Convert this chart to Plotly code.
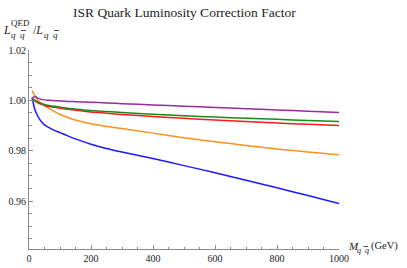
import plotly.graph_objects as go

# Data
mass = [10, 15, 20, 30, 40, 50, 60, 75, 100, 125, 150, 200, 250, 300, 400, 500, 600, 700, 800, 900, 1000]
blue = [1.0012, 0.9982, 0.9960, 0.9934, 0.9915, 0.9903, 0.9895, 0.9885, 0.9872, 0.9859, 0.9847, 0.9826, 0.9809, 0.9795, 0.9769, 0.9741, 0.9713, 0.9683, 0.9653, 0.9622, 0.9591]
orange = [1.0039, 1.0027, 1.0016, 0.9999, 0.9988, 0.9979, 0.9971, 0.9960, 0.9944, 0.9932, 0.9922, 0.9907, 0.9897, 0.9888, 0.9870, 0.9852, 0.9836, 0.9821, 0.9807, 0.9795, 0.9784]
red = [1.0008, 1.0002, 0.9997, 0.9989, 0.9984, 0.9980, 0.9977, 0.9974, 0.9969, 0.9965, 0.9961, 0.9954, 0.9949, 0.9944, 0.9936, 0.9929, 0.9922, 0.9916, 0.9910, 0.9905, 0.9900]
green = [1.0007, 1.0003, 1.0000, 0.9993, 0.9988, 0.9984, 0.9981, 0.9978, 0.9973, 0.9969, 0.9966, 0.9960, 0.9956, 0.9952, 0.9945, 0.9939, 0.9934, 0.9929, 0.9925, 0.9920, 0.9916]
purple = [1.0008, 1.0013, 1.0015, 1.0008, 1.0004, 1.0002, 1.0001, 1.0000, 0.9998, 0.9996, 0.9995, 0.9993, 0.9990, 0.9987, 0.9982, 0.9977, 0.9972, 0.9967, 0.9962, 0.9957, 0.9952]

series = [
    ("blue", blue, "#1a1aff"),
    ("orange", orange, "#ff9020"),
    ("red", red, "#ff1a1a"),
    ("green", green, "#1a8a1a"),
    ("purple", purple, "#9a2aa0"),
]

x_ticks = [0, 200, 400, 600, 800, 1000]
y_ticks = [0.96, 0.98, 1.00, 1.02]

W, H = 407, 268
L, R, T, B = 29, 68, 50, 19

fig = go.Figure()
for name, ys, col in series:
    fig.add_trace(go.Scatter(x=mass, y=ys, mode="lines", name=name,
                             line=dict(color=col, width=1.5, shape="spline", smoothing=0.8),
                             showlegend=False))

axis_col = "#8a8a8a"
font_fam = "Liberation Serif, Times New Roman, serif"

fig.update_xaxes(range=[0, 1000], showline=True, linecolor=axis_col, linewidth=1,
                 showgrid=False, zeroline=False, ticks="inside", ticklen=4, tickcolor=axis_col,
                 tickvals=x_ticks, ticktext=[str(v) for v in x_ticks],
                 tickfont=dict(family=font_fam, size=10, color="#222"), automargin=False,
                 minor=dict(dtick=50, ticks="inside", ticklen=2.5, tickcolor=axis_col, showgrid=False))
fig.update_yaxes(range=[0.941, 1.02], showline=True, linecolor=axis_col, linewidth=1,
                 showgrid=False, zeroline=False, ticks="inside", ticklen=4, tickcolor=axis_col,
                 tickvals=y_ticks, ticktext=["%.2f" % v for v in y_ticks],
                 tickfont=dict(family=font_fam, size=10, color="#222"), automargin=False,
                 minor=dict(dtick=0.005, tick0=0.94, ticks="inside", ticklen=2.5, tickcolor=axis_col, showgrid=False))

pw, ph = W - L - R, H - T - B

def px(xp):
    return (xp - L) / pw

def py(yp):
    return (H - B - yp) / ph

ann = []
def add(text, xp, yp, size, xanchor="left"):
    ann.append(dict(text=text, x=px(xp), y=py(yp), xref="paper", yref="paper",
                    xanchor=xanchor, yanchor="middle", showarrow=False,
                    font=dict(family=font_fam, size=size, color="#222")))

shapes = []
def bar(x0, x1, yp):
    shapes.append(dict(type="line", xref="paper", yref="paper", x0=px(x0), x1=px(x1),
                       y0=py(yp), y1=py(yp), line=dict(color="#222", width=0.8)))

qq = "<i>q  q</i>"
# y-axis label
add("<i>L</i>", 1, 29.5, 12)
add("QED", 8.5, 22.5, 9)
add(qq, 9, 35, 9)
bar(21, 26, 30.5)
add("/<i>L</i>", 31, 30, 12)
add(qq, 42, 35, 9)
bar(54, 59, 30.5)
# x-axis label
add("<i>M</i>", 346, 246, 11)
add(qq, 355, 250.5, 8)
bar(363.5, 368, 246.5)
add("(GeV)", 369, 246, 10.5)
# title
add("ISR Quark Luminosity Correction Factor", 184, 12, 13.5, xanchor="center")

fig.update_layout(width=W, height=H, margin=dict(l=L, r=R, t=T, b=B, autoexpand=False),
                  paper_bgcolor="white", plot_bgcolor="white", annotations=ann, shapes=shapes)

fig.write_html("out.html", config={"displayModeBar": False},
               post_script="document.body.style.margin='0px';")
